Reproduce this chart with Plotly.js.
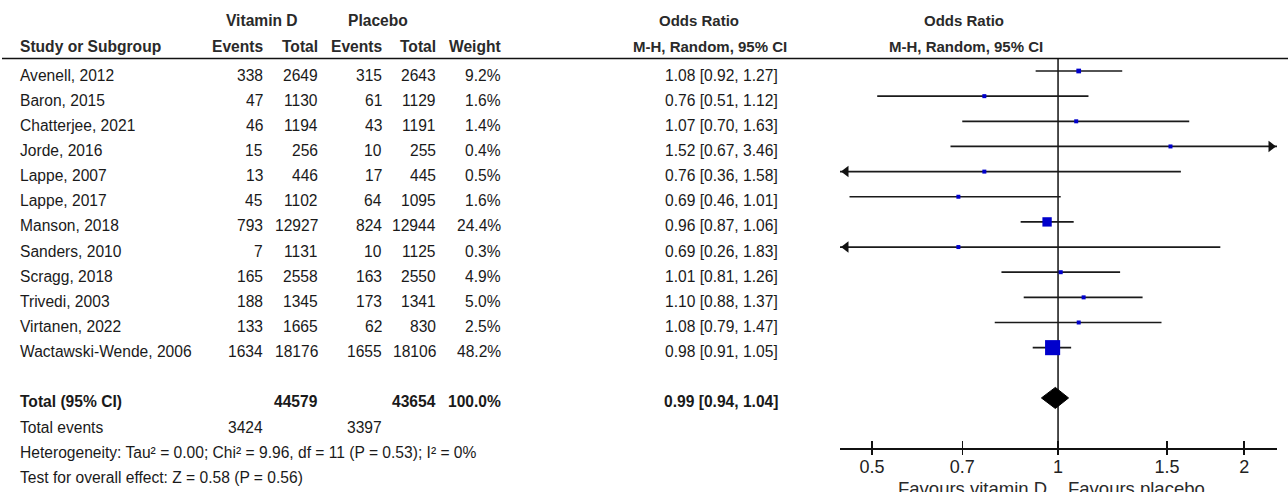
<!DOCTYPE html>
<html>
<head>
<meta charset="utf-8">
<script src="https://cdn.plot.ly/plotly-3.0.1.min.js"></script>
<style>html,body{margin:0;padding:0;background:#fff;}#chart{width:1288px;height:492px;}</style>
</head>
<body>
<div id="chart"></div>
<script>
// ---------- data ----------
const studies = ["Avenell, 2012", "Baron, 2015", "Chatterjee, 2021", "Jorde, 2016", "Lappe, 2007", "Lappe, 2017", "Manson, 2018", "Sanders, 2010", "Scragg, 2018", "Trivedi, 2003", "Virtanen, 2022", "Wactawski-Wende, 2006"];
const vitdEvents = [338, 47, 46, 15, 13, 45, 793, 7, 165, 188, 133, 1634];
const vitdTotal = [2649, 1130, 1194, 256, 446, 1102, 12927, 1131, 2558, 1345, 1665, 18176];
const placeboEvents = [315, 61, 43, 10, 17, 64, 824, 10, 163, 173, 62, 1655];
const placeboTotal = [2643, 1129, 1191, 255, 445, 1095, 12944, 1125, 2550, 1341, 830, 18106];
const weights = [9.2, 1.6, 1.4, 0.4, 0.5, 1.6, 24.4, 0.3, 4.9, 5.0, 2.5, 48.2];
const oddsRatio = [1.08, 0.76, 1.07, 1.52, 0.76, 0.69, 0.96, 0.69, 1.01, 1.10, 1.08, 0.98];
const ciLower = [0.92, 0.51, 0.70, 0.67, 0.36, 0.46, 0.87, 0.26, 0.81, 0.88, 0.79, 0.91];
const ciUpper = [1.27, 1.12, 1.63, 3.46, 1.58, 1.01, 1.06, 1.83, 1.26, 1.37, 1.47, 1.05];

const totalVitd = 44579;
const totalPlacebo = 43654;
const totalWeight = 100.0;
const pooledOR = 0.99;
const pooledLower = 0.94;
const pooledUpper = 1.04;
const totalEventsVitd = 3424;
const totalEventsPlacebo = 3397;
const heterogeneityText = "Heterogeneity: Tau² = 0.00; Chi² = 9.96, df = 11 (P = 0.53); I² = 0%";
const overallEffectText = "Test for overall effect: Z = 0.58 (P = 0.56)";

const tickValues = [0.5, 0.7, 1, 1.5, 2];
const tickLabels = ["0.5", "0.7", "1", "1.5", "2"];
const favoursLeft = "Favours vitamin D";
const favoursRight = "Favours placebo";

// ---------- layout geometry ----------
const W = 1288, H = 492;
const ROW0 = 71, ROWH = 25.15;
const pxToRow = p => (p - ROW0) / ROWH;
const px = v => v / W;
const py = v => 1 - v / H;
const xRange = [Math.log10(0.444), Math.log10(2.26)];
const plotLeft = 840, plotRight = 1277;
const axisPx = 448;
const headerLinePx = 58.5;

const FONT = "Liberation Sans, Arial, sans-serif";
const TXT = "#1a1a1a";
const FS = 15.6;

const n = studies.length;
const rows = studies.map((_, i) => i);
const totalRow = n + 1;

// ---------- traces ----------
const traces = [];
traces.push({
  x: [1, 1], y: [pxToRow(headerLinePx), pxToRow(axisPx + 6)],
  mode: "lines", line: {color: "#111", width: 1.5},
  hoverinfo: "skip", showlegend: false
});
const ciX = [], ciY = [];
rows.forEach(i => { ciX.push(ciLower[i], ciUpper[i], null); ciY.push(i, i, null); });
traces.push({
  x: ciX, y: ciY, mode: "lines", line: {color: "#1a1a1a", width: 1.7},
  hoverinfo: "skip", showlegend: false
});
const lo = Math.pow(10, xRange[0]), hi = Math.pow(10, xRange[1]);
const inset = (xRange[1] - xRange[0]) * 6 / (plotRight - plotLeft);
const arrX = [], arrY = [], arrS = [];
rows.forEach(i => {
  if (ciLower[i] < lo) { arrX.push(Math.pow(10, xRange[0] + inset)); arrY.push(i); arrS.push("triangle-left"); }
  if (ciUpper[i] > hi) { arrX.push(Math.pow(10, xRange[1] - inset)); arrY.push(i); arrS.push("triangle-right"); }
});
traces.push({
  x: arrX, y: arrY, mode: "markers", cliponaxis: false,
  marker: {symbol: arrS, size: 10, color: "#111", opacity: 1, line: {width: 0}},
  hoverinfo: "skip", showlegend: false
});
traces.push({
  x: oddsRatio, y: rows, mode: "markers",
  marker: {symbol: "square", color: "#0000cc", opacity: 1, size: weights.map(w => Math.max(4, Math.pow(w, 0.7))), line: {width: 0}},
  hoverinfo: "skip", showlegend: false
});
const dh = 0.42;
traces.push({
  x: [pooledLower, pooledOR, pooledUpper, pooledOR, pooledLower],
  y: [totalRow, totalRow - dh, totalRow, totalRow + dh, totalRow],
  mode: "lines", fill: "toself", fillcolor: "#000", line: {color: "#000", width: 1},
  hoverinfo: "skip", showlegend: false
});
traces.push({x: [1], y: [0], xaxis: "x2", mode: "markers", marker: {opacity: 0}, hoverinfo: "skip", showlegend: false});

// ---------- annotations ----------
const anns = [];
function rowText(text, xpx, row, anchor, bold) {
  anns.push({
    text: bold ? "<b>" + text + "</b>" : text,
    xref: "paper", yref: "y", x: px(xpx), y: row, yshift: -4,
    xanchor: anchor, yanchor: "middle", showarrow: false,
    font: {family: FONT, size: FS, color: TXT}
  });
}
function headText(text, xpx, ypx, anchor, size) {
  anns.push({
    text: "<b>" + text + "</b>",
    xref: "paper", yref: "paper", x: px(xpx), y: py(ypx),
    xanchor: anchor, yanchor: "middle", showarrow: false,
    font: {family: FONT, size: size || FS, color: "#2a2a2a"}
  });
}
const cLeft = 18, cVE = 265, cVT = 320, cPE = 384, cPT = 438, cW = 503, cOR = 780;

headText("Vitamin D", 262, 20.5, "center");
headText("Placebo", 378, 20.5, "center");
headText("Odds Ratio", 699, 20.5, "center", 15);
headText("Odds Ratio", 964, 20.5, "center", 15);
headText("Study or Subgroup", cLeft, 46, "left");
headText("Events", cVE, 46, "right");
headText("Total", cVT, 46, "right");
headText("Events", cPE, 46, "right");
headText("Total", cPT, 46, "right");
headText("Weight", cW, 46, "right");
headText("M-H, Random, 95% CI", 710, 46, "center", 15);
headText("M-H, Random, 95% CI", 966, 46, "center", 15);

rows.forEach(i => {
  rowText(studies[i], cLeft, i, "left");
  rowText(String(vitdEvents[i]), cVE, i, "right");
  rowText(String(vitdTotal[i]), cVT, i, "right");
  rowText(String(placeboEvents[i]), cPE, i, "right");
  rowText(String(placeboTotal[i]), cPT, i, "right");
  rowText(weights[i].toFixed(1) + "%", cW, i, "right");
  rowText(oddsRatio[i].toFixed(2) + " [" + ciLower[i].toFixed(2) + ", " + ciUpper[i].toFixed(2) + "]", cOR, i, "right");
});
rowText("Total (95% CI)", cLeft, totalRow, "left", true);
rowText(String(totalVitd), cVT, totalRow, "right", true);
rowText(String(totalPlacebo), cPT, totalRow, "right", true);
rowText(totalWeight.toFixed(1) + "%", cW, totalRow, "right", true);
rowText(pooledOR.toFixed(2) + " [" + pooledLower.toFixed(2) + ", " + pooledUpper.toFixed(2) + "]", cOR, totalRow, "right", true);
rowText("Total events", cLeft, totalRow + 1, "left");
rowText(String(totalEventsVitd), cVE, totalRow + 1, "right");
rowText(String(totalEventsPlacebo), cPE, totalRow + 1, "right");
rowText(heterogeneityText, cLeft, totalRow + 2, "left");
rowText(overallEffectText, cLeft, totalRow + 3, "left");

anns.push({text: favoursLeft, xref: "paper", yref: "paper", x: px(1049), y: py(488.5), xanchor: "right", yanchor: "middle",
  showarrow: false, font: {family: FONT, size: 18.5, color: "#2a2a2a"}});
anns.push({text: favoursRight, xref: "paper", yref: "paper", x: px(1066), y: py(488.5), xanchor: "left", yanchor: "middle",
  showarrow: false, font: {family: FONT, size: 18.5, color: "#2a2a2a"}});

// ---------- layout ----------
const axisCommon = {
  type: "log", range: xRange, domain: [px(plotLeft), px(plotRight)],
  anchor: "free", position: py(axisPx),
  tickmode: "array", tickvals: tickValues, ticktext: tickLabels,
  showgrid: false, zeroline: false, fixedrange: true,
  tickcolor: "#111", tickwidth: 1.5
};
const layout = {
  width: W, height: H,
  margin: {l: 0, r: 0, t: 0, b: 0, pad: 0},
  paper_bgcolor: "#fff", plot_bgcolor: "rgba(0,0,0,0)",
  showlegend: false,
  xaxis: Object.assign({}, axisCommon, {
    showline: true, linecolor: "#111", linewidth: 1.5,
    ticks: "inside", ticklen: 7, ticklabelstandoff: 2,
    tickfont: {family: FONT, size: 18, color: "#222"}
  }),
  xaxis2: Object.assign({}, axisCommon, {
    overlaying: "x", showline: false, ticks: "outside", ticklen: 6, showticklabels: false
  }),
  yaxis: {range: [pxToRow(H), pxToRow(0)], domain: [0, 1], visible: false, fixedrange: true, showgrid: false, zeroline: false},
  shapes: [{
    type: "line", xref: "paper", yref: "paper", x0: px(2), x1: 1, y0: py(headerLinePx), y1: py(headerLinePx),
    line: {color: "#111", width: 1.6}
  }],
  annotations: anns
};

Plotly.newPlot("chart", traces, layout, {displayModeBar: false, staticPlot: true});
</script>
</body>
</html>
